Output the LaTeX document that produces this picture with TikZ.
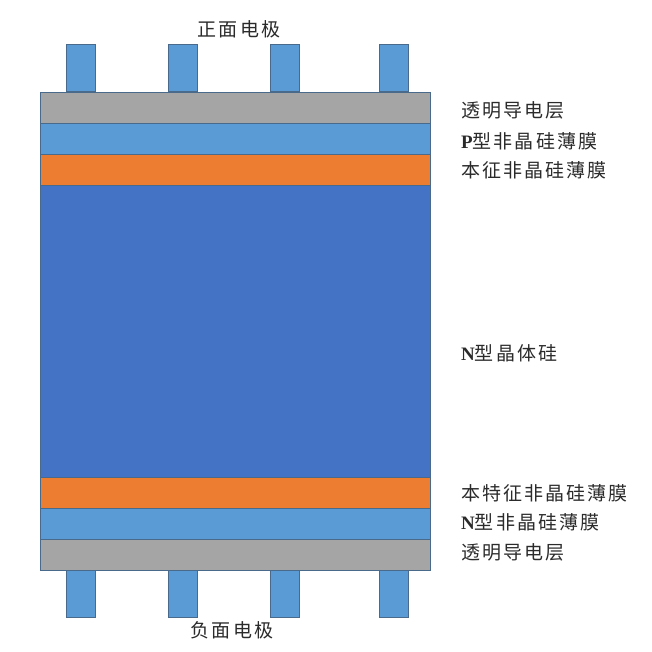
\documentclass[tikz,border=0pt]{standalone}
\usepackage{fontspec}
\usepackage{xcolor}
\setmainfont{Liberation Serif}
\newfontfamily\cjk[LetterSpace=11]{Noto Sans CJK SC}
\newcommand{\lat}[1]{{\rmfamily\bfseries #1}}

\definecolor{tcogrey}{HTML}{A5A5A5}
\definecolor{filmblue}{HTML}{5B9BD5}
\definecolor{introrange}{HTML}{ED7D31}
\definecolor{waferblue}{HTML}{4472C4}
\definecolor{edgeblue}{HTML}{4A6A8C}
\definecolor{labelgrey}{HTML}{2B2B2B}

\tikzset{
	layer/.style={draw=edgeblue,line width=0.6pt,minimum width=390pt,inner sep=0pt,anchor=north west},
	electrode/.style={draw=edgeblue,line width=0.6pt,fill=filmblue,minimum width=29pt,minimum height=47pt,inner sep=0pt},
	label/.style={font=\cjk\fontsize{19}{19}\selectfont,text=labelgrey,inner sep=0pt}
}

\begin{document}
\begin{tikzpicture}[x=1pt,y=-1pt]
	\useasboundingbox (0,0) rectangle (651,652);

	% front electrodes
	\node[electrode,anchor=south west] (front_el_a) at (66,92) {};
	\node[electrode,anchor=south west] (front_el_b) at (168,92) {};
	\node[electrode,anchor=south west] (front_el_c) at (270,92) {};
	\node[electrode,anchor=south west] (front_el_d) at (379,92) {};

	% back electrodes
	\node[electrode,anchor=north west] (back_el_a) at (66,570) {};
	\node[electrode,anchor=north west] (back_el_b) at (168,570) {};
	\node[electrode,anchor=north west] (back_el_c) at (270,570) {};
	\node[electrode,anchor=north west] (back_el_d) at (379,570) {};

	% layer stack
	\node[layer,fill=tcogrey,minimum height=31pt] (tco_top) at (40,92) {};
	\node[layer,fill=filmblue,minimum height=31pt] (p_film) at (40,123) {};
	\node[layer,fill=introrange,minimum height=31pt] (i_film_top) at (40,154) {};
	\node[layer,fill=waferblue,minimum height=292pt] (n_wafer) at (40,185) {};
	\node[layer,fill=introrange,minimum height=31pt] (i_film_bot) at (40,477) {};
	\node[layer,fill=filmblue,minimum height=31pt] (n_film) at (40,508) {};
	\node[layer,fill=tcogrey,minimum height=31pt] (tco_bot) at (40,539) {};

	% captions
	\node[label] (front_el_label) at (239,29) {正面电极};
	\node[label] (back_el_label) at (232,630) {负面电极};

	\node[label,anchor=west] (tco_top_label) at (461,110) {透明导电层};
	\node[label,anchor=west] (p_film_label) at (461,141) {\lat{P}型非晶硅薄膜};
	\node[label,anchor=west] (i_film_top_label) at (461,170) {本征非晶硅薄膜};
	\node[label,anchor=west] (n_wafer_label) at (461,353) {\lat{N}型晶体硅};
	\node[label,anchor=west] (i_film_bot_label) at (461,493) {本特征非晶硅薄膜};
	\node[label,anchor=west] (n_film_label) at (461,522) {\lat{N}型非晶硅薄膜};
	\node[label,anchor=west] (tco_bot_label) at (461,552) {透明导电层};
\end{tikzpicture}
\end{document}
